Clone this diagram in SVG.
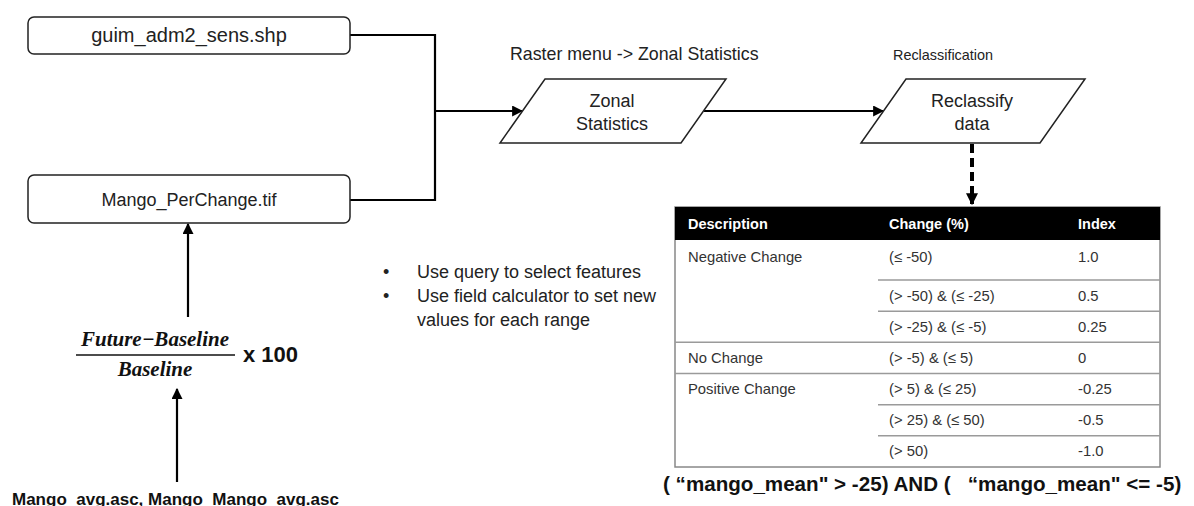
<svg xmlns="http://www.w3.org/2000/svg" width="1194" height="506" viewBox="0 0 1194 506">
<defs>
<style>
.box{fill:#fff;stroke:#222;stroke-width:1.5}
.t{font-family:"Liberation Sans",Arial,sans-serif;fill:#222}
.c{text-anchor:middle}
.conn{fill:none;stroke:#000;stroke-width:2.2}
.grid{stroke:#9a9a9a;stroke-width:1.5}
.cell{font-family:"Liberation Sans",Arial,sans-serif;font-size:14.8px;fill:#333}
.hd{font-family:"Liberation Sans",Arial,sans-serif;font-size:14.5px;font-weight:bold;fill:#fff}
</style>
<marker id="arr" viewBox="0 0 10 10" refX="9" refY="5" markerWidth="5" markerHeight="5" orient="auto" markerUnits="strokeWidth">
<path d="M0,0 L10,5 L0,10 z" fill="#000"/>
</marker>
<marker id="arrd" viewBox="0 0 10 10" refX="9" refY="5" markerWidth="3" markerHeight="3" orient="auto" markerUnits="strokeWidth">
<path d="M0,0 L10,5 L0,10 z" fill="#000"/>
</marker>
</defs>
<rect width="1194" height="506" fill="#fff"/>

<g id="connectors">
<polyline class="conn" points="350,35 435,35 435,200 350,200"/>
<line class="conn" x1="435" y1="111" x2="522" y2="111" marker-end="url(#arr)"/>
<line class="conn" x1="704" y1="111" x2="883" y2="111" marker-end="url(#arr)"/>
<line x1="972" y1="144" x2="972" y2="204" stroke="#000" stroke-width="4" stroke-dasharray="9,5" marker-end="url(#arrd)"/>
<line class="conn" x1="188" y1="317" x2="188" y2="224" marker-end="url(#arr)"/>
<line class="conn" x1="177" y1="482" x2="177" y2="389" marker-end="url(#arr)"/>
</g>

<g id="node-shp">
<rect class="box" x="28" y="17" width="322" height="37" rx="6"/>
<text class="t c" x="189" y="42" font-size="20">guim_adm2_sens.shp</text>
</g>

<g id="node-tif">
<rect class="box" x="28" y="175" width="322" height="48" rx="6"/>
<text class="t c" x="189" y="206" font-size="18">Mango_PerChange.tif</text>
</g>

<g id="node-zonal">
<text class="t" x="510" y="60" font-size="17.8">Raster menu -&gt; Zonal Statistics</text>
<polygon class="box" points="545,79 726,79 681,143 500,143"/>
<text class="t c" x="612" y="107" font-size="18">Zonal</text>
<text class="t c" x="612" y="130" font-size="18">Statistics</text>
</g>

<g id="node-reclass">
<text class="t" x="893" y="60" font-size="14.4">Reclassification</text>
<polygon class="box" points="906,79 1085,79 1040,143 861,143"/>
<text class="t c" x="972" y="107" font-size="18">Reclassify</text>
<text class="t c" x="972" y="130" font-size="18">data</text>
</g>

<g id="node-formula">
<text x="155" y="346" text-anchor="middle" font-family="'Liberation Serif','DejaVu Serif',serif" font-size="21" font-weight="bold" font-style="italic" fill="#111">Future−Baseline</text>
<line x1="76" y1="355" x2="235" y2="355" stroke="#111" stroke-width="1.5"/>
<text x="155" y="376" text-anchor="middle" font-family="'Liberation Serif','DejaVu Serif',serif" font-size="21" font-weight="bold" font-style="italic" fill="#111">Baseline</text>
<text x="243" y="362" font-family="'Liberation Sans',Arial,sans-serif" font-size="22" font-weight="bold" fill="#111">x 100</text>
</g>

<g id="node-inputs">
<text x="12" y="505" font-family="'Liberation Sans',Arial,sans-serif" font-size="17" font-weight="bold" fill="#111">Mango_avg.asc, Mango_Mango_avg.asc</text>
</g>

<g id="node-notes">
<text class="t" x="383" y="278" font-size="18">•</text>
<text class="t" x="417" y="278" font-size="18">Use query to select features</text>
<text class="t" x="383" y="302" font-size="18">•</text>
<text class="t" x="417" y="302" font-size="18">Use field calculator to set new</text>
<text class="t" x="417" y="326" font-size="18">values for each range</text>
</g>

<g id="node-table">
<rect x="675" y="207" width="485" height="260" fill="#fff" stroke="#888" stroke-width="1.5"/>
<rect x="675" y="207" width="485" height="33" fill="#000"/>
<text class="hd" x="688" y="229">Description</text>
<text class="hd" x="889" y="229">Change (%)</text>
<text class="hd" x="1078" y="229">Index</text>
<line class="grid" x1="878" y1="280" x2="1160" y2="280"/>
<line class="grid" x1="878" y1="311.2" x2="1160" y2="311.2"/>
<line class="grid" x1="675" y1="342.3" x2="1160" y2="342.3"/>
<line class="grid" x1="675" y1="373.5" x2="1160" y2="373.5"/>
<line class="grid" x1="878" y1="404.7" x2="1160" y2="404.7"/>
<line class="grid" x1="878" y1="435.8" x2="1160" y2="435.8"/>
<text class="cell" x="688" y="262">Negative Change</text>
<text class="cell" x="889" y="262">(≤ -50)</text>
<text class="cell" x="1078" y="262">1.0</text>
<text class="cell" x="889" y="301">(&gt; -50) &amp; (≤ -25)</text>
<text class="cell" x="1078" y="301">0.5</text>
<text class="cell" x="889" y="332">(&gt; -25) &amp; (≤ -5)</text>
<text class="cell" x="1078" y="332">0.25</text>
<text class="cell" x="688" y="363">No Change</text>
<text class="cell" x="889" y="363">(&gt; -5) &amp; (≤ 5)</text>
<text class="cell" x="1078" y="363">0</text>
<text class="cell" x="688" y="394">Positive Change</text>
<text class="cell" x="889" y="394">(&gt; 5) &amp; (≤ 25)</text>
<text class="cell" x="1078" y="394">-0.25</text>
<text class="cell" x="889" y="425">(&gt; 25) &amp; (≤ 50)</text>
<text class="cell" x="1078" y="425">-0.5</text>
<text class="cell" x="889" y="456">(&gt; 50)</text>
<text class="cell" x="1078" y="456">-1.0</text>
</g>

<g id="node-query">
<text x="663" y="491" font-family="'Liberation Sans',Arial,sans-serif" font-size="20.6" font-weight="bold" fill="#111" xml:space="preserve">( “mango_mean" &gt; -25) AND (   “mango_mean" &lt;= -5)</text>
</g>
</svg>
